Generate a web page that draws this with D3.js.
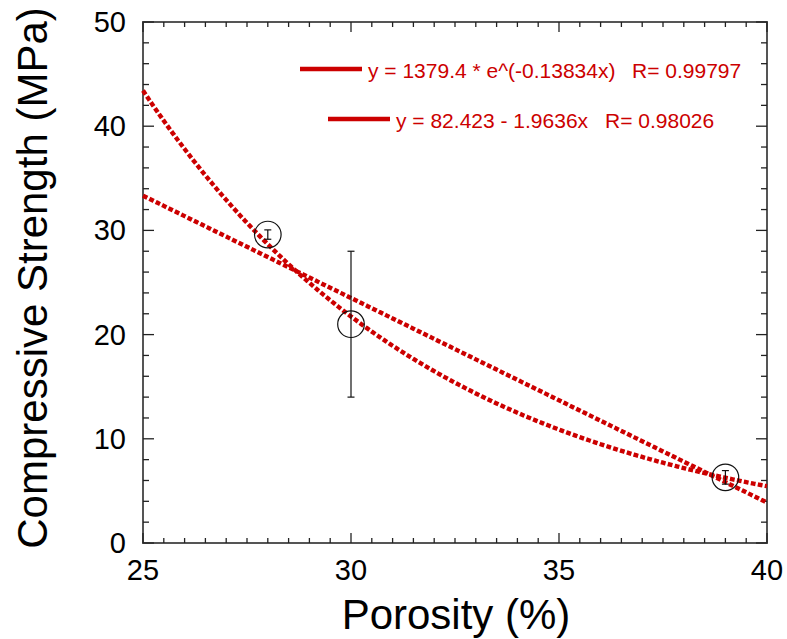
<!DOCTYPE html>
<html>
<head>
<meta charset="utf-8">
<script src="https://cdn.jsdelivr.net/npm/d3@7"></script>
<style>
  body { margin: 0; background: #fff; }
  svg { font-family: "Liberation Sans", Arial, sans-serif; }
</style>
</head>
<body>
<svg id="chart"></svg>
<script>
const width = 787, height = 639

// measured points
const porosity = [28, 30, 39]
const strength = [29.6, 21.0, 6.3]
const strength_err = [0.45, 7.0, 0.65]

// fit coefficients, as printed in the legend
const exp_fit = { a: 1379.4, b: -0.13834 }
const lin_fit = { a: 82.423, b: -1.9636 }
const legend_eqs = ["y = 1379.4 * e^(-0.13834x)", "y = 82.423 - 1.9636x"]
const legend_r = ["R= 0.99797", "R= 0.98026"]

const x_ticks = [25, 30, 35, 40]
const y_ticks = [0, 10, 20, 30, 40, 50]

const red = "#cc0000"
const frame = "#555"

let margin = { left: 143, right: 20, top: 22, bottom: 96 }

let svg = d3.select("#chart")
    .attr("width", width)
    .attr("height", height)

let x = d3.scaleLinear().domain([25, 40]).range([margin.left, width - margin.right])
let y = d3.scaleLinear().domain([0, 50]).range([height - margin.bottom, margin.top])

let x0 = x.range()[0], x1 = x.range()[1]
let y0 = y.range()[0], y1 = y.range()[1]

// frame
svg.append("rect")
    .attr("x", x0).attr("y", y1)
    .attr("width", x1 - x0).attr("height", y0 - y1)
    .attr("fill", "none")
    .attr("stroke", frame)
    .attr("stroke-width", 2)

// ticks on all four sides, pointing inward
let ticks = svg.append("g").attr("stroke", "#222").attr("stroke-width", 1.3)
d3.range(25, 40.01, 0.5).forEach(v => {
    let major = Math.abs(v % 5) < 1e-6
    let len = major ? 10 : 5
    ticks.append("line").attr("x1", x(v)).attr("x2", x(v)).attr("y1", y0).attr("y2", y0 - len)
    ticks.append("line").attr("x1", x(v)).attr("x2", x(v)).attr("y1", y1).attr("y2", y1 + len)
})
d3.range(0, 50.01, 2).forEach(v => {
    let major = Math.abs(v % 10) < 1e-6
    let len = major ? 11 : 6
    ticks.append("line").attr("y1", y(v)).attr("y2", y(v)).attr("x1", x0).attr("x2", x0 + len)
    ticks.append("line").attr("y1", y(v)).attr("y2", y(v)).attr("x1", x1).attr("x2", x1 - len)
})

// tick labels
svg.append("g").selectAll("text")
    .data(x_ticks).enter().append("text")
    .attr("x", d => x(d)).attr("y", y0 + 37)
    .attr("text-anchor", "middle")
    .attr("font-size", 29)
    .text(d => d)

svg.append("g").selectAll("text")
    .data(y_ticks).enter().append("text")
    .attr("x", x0 - 17).attr("y", d => y(d) + 10)
    .attr("text-anchor", "end")
    .attr("font-size", 29)
    .text(d => d)

// axis titles
svg.append("text")
    .attr("x", 456).attr("y", height - 10)
    .attr("text-anchor", "middle")
    .attr("font-size", 42)
    .text("Porosity (%)")

svg.append("text")
    .attr("transform", `translate(47,278) rotate(-90)`)
    .attr("text-anchor", "middle")
    .attr("font-size", 42)
    .text("Compressive Strength (MPa)")

// fit curves (dotted)
let xs = d3.range(25, 40.001, 0.05)
let line = d3.line().x(d => x(d[0])).y(d => y(d[1]))
let fits = [
    xs.map(v => [v, exp_fit.a * Math.exp(exp_fit.b * v)]),
    xs.map(v => [v, lin_fit.a + lin_fit.b * v])
]
svg.append("g").selectAll("path")
    .data(fits).enter().append("path")
    .attr("d", line)
    .attr("fill", "none")
    .attr("stroke", red)
    .attr("stroke-width", 4.4)
    .attr("stroke-dasharray", "4.8,2.3")

// data points with error bars
let pts = porosity.map((p, i) => ({ x: p, y: strength[i], e: strength_err[i] }))
let pg = svg.append("g").attr("stroke", "#111").attr("fill", "none").attr("stroke-width", 1.2)
pts.forEach(d => {
    pg.append("line").attr("x1", x(d.x)).attr("x2", x(d.x)).attr("y1", y(d.y - d.e)).attr("y2", y(d.y + d.e))
    pg.append("line").attr("x1", x(d.x) - 3.5).attr("x2", x(d.x) + 3.5).attr("y1", y(d.y - d.e)).attr("y2", y(d.y - d.e))
    pg.append("line").attr("x1", x(d.x) - 3.5).attr("x2", x(d.x) + 3.5).attr("y1", y(d.y + d.e)).attr("y2", y(d.y + d.e))
    pg.append("circle").attr("cx", x(d.x)).attr("cy", y(d.y)).attr("r", 13.3)
})

// legend
let legend = [
    { x: 300, y: 69, rx: 632 },
    { x: 328, y: 119, rx: 605 }
]
let lg = svg.append("g").attr("fill", red).attr("font-size", 21)
legend.forEach((l, i) => {
    lg.append("line")
        .attr("x1", l.x).attr("x2", l.x + 62)
        .attr("y1", l.y).attr("y2", l.y)
        .attr("stroke", red).attr("stroke-width", 4.5)
    lg.append("text")
        .attr("x", l.x + 68).attr("y", l.y + 9)
        .text(legend_eqs[i])
    lg.append("text")
        .attr("x", l.rx).attr("y", l.y + 9)
        .text(legend_r[i])
})
</script>
</body>
</html>
